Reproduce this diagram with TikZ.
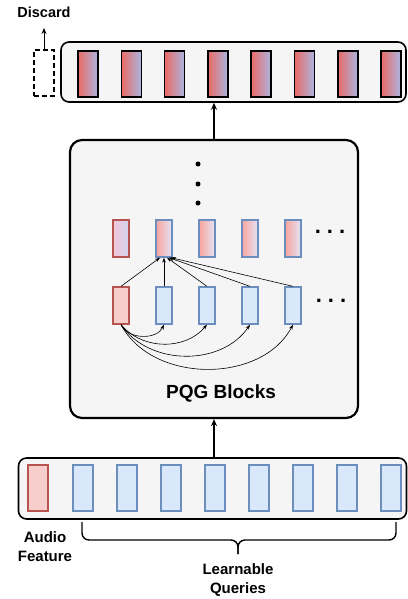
\documentclass[tikz,border=0pt]{standalone}
\usepackage{fontspec}
\setmainfont{Liberation Sans}
\usetikzlibrary{positioning,arrows.meta}

\definecolor{panelgray}{HTML}{F5F5F5}
\definecolor{audiofill}{HTML}{F8CECC}
\definecolor{audioline}{HTML}{B85450}
\definecolor{queryfill}{HTML}{DAE8FC}
\definecolor{queryline}{HTML}{6C8EBF}
\definecolor{outred}{HTML}{EA6B66}
\definecolor{outblue}{HTML}{AAB6E2}
\definecolor{mixpink}{HTML}{F3C6D4}
\definecolor{mixlav}{HTML}{D0D3F3}
\definecolor{upsalmon}{HTML}{F8A49C}
\definecolor{uplav}{HTML}{E4E4F6}

\tikzset{
  panel/.style={draw, fill=panelgray, rounded corners=8pt, inner sep=0pt},
  outtok/.style={draw, line width=1.5pt, left color=outred, right color=outblue,
    minimum width=20pt, minimum height=46pt, inner sep=0pt},
  audiotok/.style={draw=audioline, fill=audiofill, line width=1.3pt,
    minimum width=20pt, minimum height=46pt, inner sep=0pt},
  querytok/.style={draw=queryline, fill=queryfill, line width=1.3pt,
    minimum width=20pt, minimum height=46pt, inner sep=0pt},
  smalltok/.style={minimum width=16pt, minimum height=37pt, inner sep=0pt},
  vdot/.style={circle, fill, inner sep=0pt, minimum size=5pt},
  hdots/.style={font=\fontsize{22}{22}\selectfont\bfseries},
  thinarrow/.style={-{Stealth[length=5pt,width=3.5pt]}, line width=0.6pt},
  label/.style={font=\fontsize{15}{19}\selectfont\bfseries, align=center}
}

\begin{document}
\begin{tikzpicture}[x=1pt,y=-1pt,node distance=1ex]
  \useasboundingbox (0,0) rectangle (407,599);

  \node (outbar) [panel, line width=1.6pt, minimum width=345pt, minimum height=60pt]
        at (233.5,72) {};
  \foreach \i in {0,...,7}
    \node (out-\i) [outtok] at (88+43.3*\i,74) {};

  \node (drop) [draw, dash pattern=on 5pt off 3pt, line width=1.2pt,
                minimum width=20pt, minimum height=46pt, inner sep=0pt] at (44,73) {};
  \coordinate (droptip) at (44,28);
  \draw [-{Stealth[length=6pt,width=5pt]}, line width=0.8pt] (drop.north) -- (droptip);
  \node (discard) [font=\fontsize{14.5}{17}\selectfont\bfseries] at (44,12) {Discard};

  \node (block) [panel, line width=2.2pt, rounded corners=12pt,
                 minimum width=288pt, minimum height=278pt] at (214,279) {};
  \draw [-{Stealth[length=7pt,width=6pt]}, line width=1.4pt]
        (block.north) -- (block.north |- outbar.south);

  \node (d1) [vdot] at (198,164) {};
  \node (d2) [vdot] at (198,184) {};
  \node (d3) [vdot] at (198,203) {};

  \node (up-1) [smalltok, draw=audioline, line width=1.3pt,
                left color=mixpink, right color=mixlav] at (121,238.5) {};
  \foreach \i in {2,...,5}
    \node (up-\i) [smalltok, draw=queryline, line width=1.3pt,
                   left color=upsalmon, right color=uplav]
          at (121+43*\i-43,238.5) {};
  \node (updots) [hdots] at (330,232) {.\hspace{6pt}.\hspace{6pt}.};

  \node (low-1) [smalltok, draw=audioline, fill=audiofill, line width=1.3pt]
        at (121,305.5) {};
  \foreach \i in {2,...,5}
    \node (low-\i) [smalltok, draw=queryline, fill=queryfill, line width=1.3pt]
          at (121+43*\i-43,305.5) {};
  \node (lowdots) [hdots] at (331,301) {.\hspace{6pt}.\hspace{6pt}.};

  \foreach \i/\dx in {1/-4,2/0,3/3,4/5,5/7}
    \draw [thinarrow] (low-\i.north) -- ([xshift=\dx pt]up-2.south);

  \foreach \i/\b in {2/65,3/50,4/56,5/62}
    \draw [thinarrow] (low-1.south) to [bend right=\b] (low-\i.south);

  \node (pqg) [font=\fontsize{19}{22}\selectfont\bfseries] at (221,393) {PQG Blocks};

  \node (inbar) [panel, line width=1.6pt, minimum width=388pt, minimum height=61pt]
        at (212.5,488.5) {};
  \node (audio) [audiotok] at (38,488) {};
  \foreach \i in {1,...,8}
    \node (q-\i) [querytok] at (39+44*\i,488) {};
  \draw [-{Stealth[length=7pt,width=6pt]}, line width=1.4pt]
        (block.south |- inbar.north) -- (block.south);

  \coordinate (braceL) at (82,522);
  \coordinate (braceR) at (396,522);
  \coordinate (braceM) at (238,540);
  \coordinate (braceTip) at (238,554);
  \draw [line width=1.4pt, rounded corners=7pt] (braceL) |- (braceM) -- (braceTip);
  \draw [line width=1.4pt, rounded corners=7pt] (braceR) |- (braceM) -- (braceTip);

  \node (audiolbl) [label] at (45,547) {Audio\\Feature};
  \node (querylbl) [label] at (238,580) {Learnable\\Queries};

\end{tikzpicture}
\end{document}
